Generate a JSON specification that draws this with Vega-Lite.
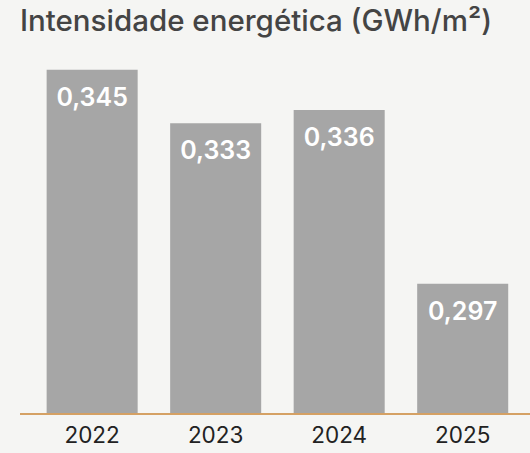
{
  "$schema": "https://vega.github.io/schema/vega-lite/v6.json",
  "autosize": {"type": "none"},
  "width": 510,
  "height": 354,
  "padding": {"left": 20, "top": 60, "right": 0, "bottom": 39},
  "background": "#f5f5f3",
  "config": {"view": {"stroke": null}, "font": "Inter"},
  "title": {
    "text": "Intensidade energética (GWh/m²)",
    "anchor": "start",
    "frame": "group",
    "fontSize": 29.5,
    "fontWeight": 500,
    "color": "#444444",
    "baseline": "alphabetic",
    "offset": 0
  },
  "data": {
    "values": [
      {"ano": "2022", "valor": 0.345, "rotulo": "0,345"},
      {"ano": "2023", "valor": 0.333, "rotulo": "0,333"},
      {"ano": "2024", "valor": 0.336, "rotulo": "0,336"},
      {"ano": "2025", "valor": 0.297, "rotulo": "0,297"}
    ]
  },
  "encoding": {
    "x": {
      "field": "ano",
      "type": "nominal",
      "title": null,
      "scale": {"paddingInner": 0.263, "paddingOuter": 0.196, "align": 0.55},
      "axis": {"labelAngle": 0, "ticks": false, "domain": false, "labelFontSize": 22.5, "labelFontWeight": 400, "labelColor": "#222222", "labelPadding": 10, "labelFont": "Inter"}
    }
  },
  "layer": [
    {
      "mark": {"type": "bar", "color": "#a6a6a6"},
      "encoding": {
        "y": {"field": "valor", "type": "quantitative", "scale": {"domain": [0.2678, 0.3472], "zero": false, "nice": false}, "axis": null},
        "y2": {"datum": 0.2678}
      }
    },
    {
      "mark": {"type": "text", "color": "white", "fontSize": 25, "fontWeight": 600, "baseline": "alphabetic", "dy": 36},
      "encoding": {
        "y": {"field": "valor", "type": "quantitative"},
        "text": {"field": "rotulo"}
      }
    },
    {
      "mark": {"type": "rule", "color": "#d4a064", "strokeWidth": 1.5},
      "encoding": {"y": {"datum": 0.2678}, "x": null}
    }
  ]
}
